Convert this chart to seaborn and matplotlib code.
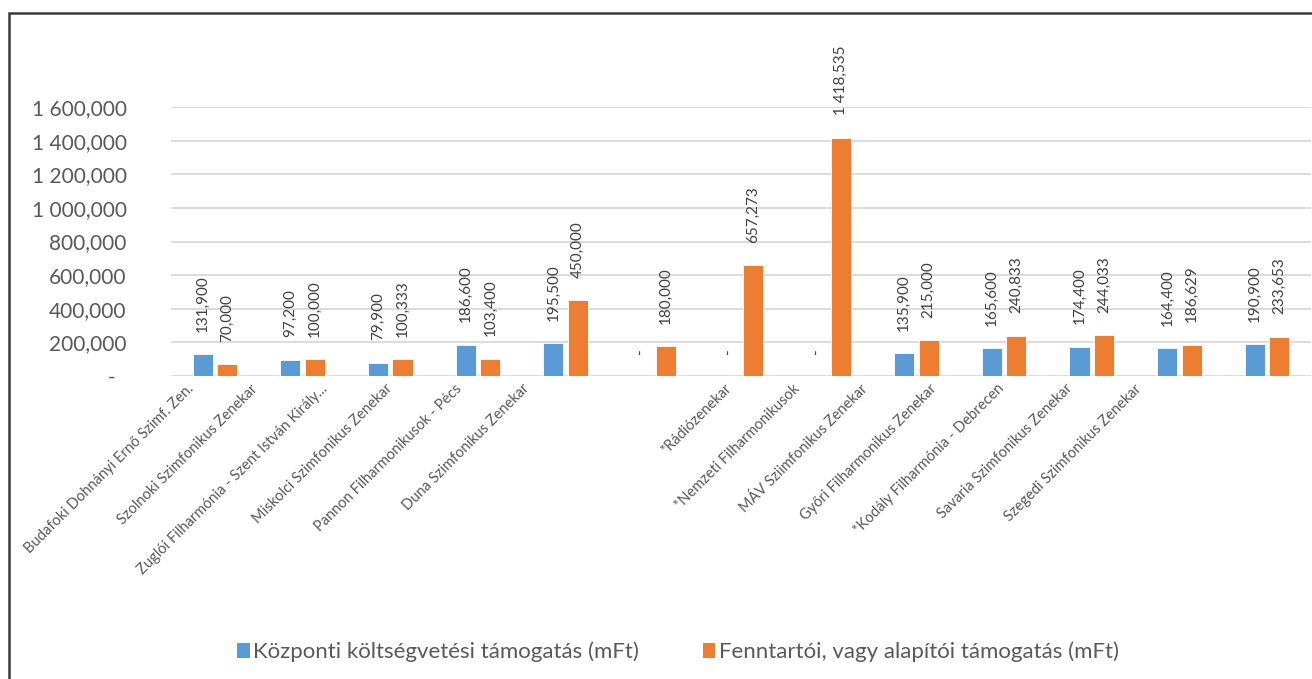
import matplotlib
matplotlib.use("Agg")
import matplotlib.pyplot as plt
import matplotlib.transforms as mtransforms
from matplotlib.patches import Rectangle, Patch
import seaborn as sns
import pandas as pd

categories = [
    "Budafoki Dohnányi Ernő Szimf. Zen.",
    "Szolnoki Szimfonikus Zenekar",
    "Zuglói Filharmónia - Szent István Király...",
    "Miskolci Szimfonikus Zenekar",
    "Pannon Filharmonikusok - Pécs",
    "Duna Szimfonikus Zenekar",
    "*Rádiózenekar",
    "*Nemzeti Filharmonikusok",
    "MÁV Sziimfonikus Zenekar",
    "Győri Filharmonikus Zenekar",
    "*Kodály Filharmónia - Debrecen",
    "Savaria Szimfonikus Zenekar",
    "Szegedi Szimfonikus Zenekar",
]
kozponti = [131.9, 97.2, 79.9, 186.6, 195.5, 0.0, 0.0, 0.0, 135.9, 165.6, 174.4, 164.4, 190.9]
fenntartoi = [70.0, 100.0, 100.333, 103.4, 450.0, 180.0, 657.273, 1418.535, 215.0, 240.833, 244.033, 186.629, 233.653]
series_names = ["Központi költségvetési támogatás (mFt)", "Fenntartói, vagy alapítói támogatás (mFt)"]
yticks = [0, 200, 400, 600, 800, 1000, 1200, 1400, 1600]

colors = ["#5B9BD5", "#ED7D31"]
text_color = "#595959"


def hu_fmt(v):
    if v == 0:
        return "-"
    s = f"{v:,.3f}"
    return s.replace(",", " ").replace(".", ",")


df = pd.DataFrame({
    "cat": categories * 2,
    "val": kozponti + fenntartoi,
    "series": [series_names[0]] * len(categories) + [series_names[1]] * len(categories),
})

sns.set_theme(style="white")
plt.rcParams["font.family"] = ["Lato", "DejaVu Sans"]

W, H = 1312, 679
fig = plt.figure(figsize=(W / 100, H / 100), dpi=100)
ax = fig.add_axes([171 / W, 1 - 376 / H, (1311 - 171) / W, (376 - 107) / H])

sns.barplot(data=df, x="cat", y="val", hue="series", palette=colors, ax=ax,
            width=0.56, gap=0.18, edgecolor="white", linewidth=0.6,
            saturation=1, legend=False, errorbar=None)

ax.set_ylim(0, 1600)
ax.set_xlim(-0.5, len(categories) - 0.5)
ax.set_yticks(yticks)
ax.set_yticklabels([hu_fmt(v) + ("  " if v == 0 else "") for v in yticks],
                   fontsize=15, color=text_color)
ax.tick_params(axis="y", length=0, pad=32)
ax.tick_params(axis="x", length=0, pad=4)
ax.yaxis.grid(True, color="#D9D9D9", linewidth=1.3)
ax.set_axisbelow(True)
for s in ax.spines.values():
    s.set_visible(False)
ax.set_xlabel("")
ax.set_ylabel("")

# data labels
for cont, vals in zip(ax.containers, [kozponti, fenntartoi]):
    ax.bar_label(cont, labels=[hu_fmt(v) for v in vals], rotation=90,
                 padding=16, fontsize=11, color="#404040")

# x tick labels (rotated, shifted like the reference layout)
ax.set_xticks(range(len(categories)))
ax.set_xticklabels(categories, rotation=45, ha="right", va="top",
                   rotation_mode="anchor", fontsize=10.5, color=text_color)
shift_px = [-28, -52, -70, -93, -111, -131, -17, -36, -56, -75, -95, -114, -133]
for lab, dx in zip(ax.get_xticklabels(), shift_px):
    lab.set_transform(lab.get_transform() +
                      mtransforms.ScaledTranslation(dx / 100, 0, fig.dpi_scale_trans))

# legend
handles = [Patch(facecolor=c, edgecolor="none") for c in colors]
fig.legend(handles, series_names, loc="center", bbox_to_anchor=(678 / W, 1 - 652 / H),
           ncol=2, frameon=False, fontsize=16, handlelength=0.55, handleheight=0.7,
           handletextpad=0.15, columnspacing=2.9, labelcolor=text_color)

# outer border
fig.patches.append(Rectangle((9 / W, -0.1), 1.2, 1.1 - 13 / H, transform=fig.transFigure,
                             fill=False, edgecolor="#3a3a3a", linewidth=1.8))

fig.savefig("out.png", dpi=100)
